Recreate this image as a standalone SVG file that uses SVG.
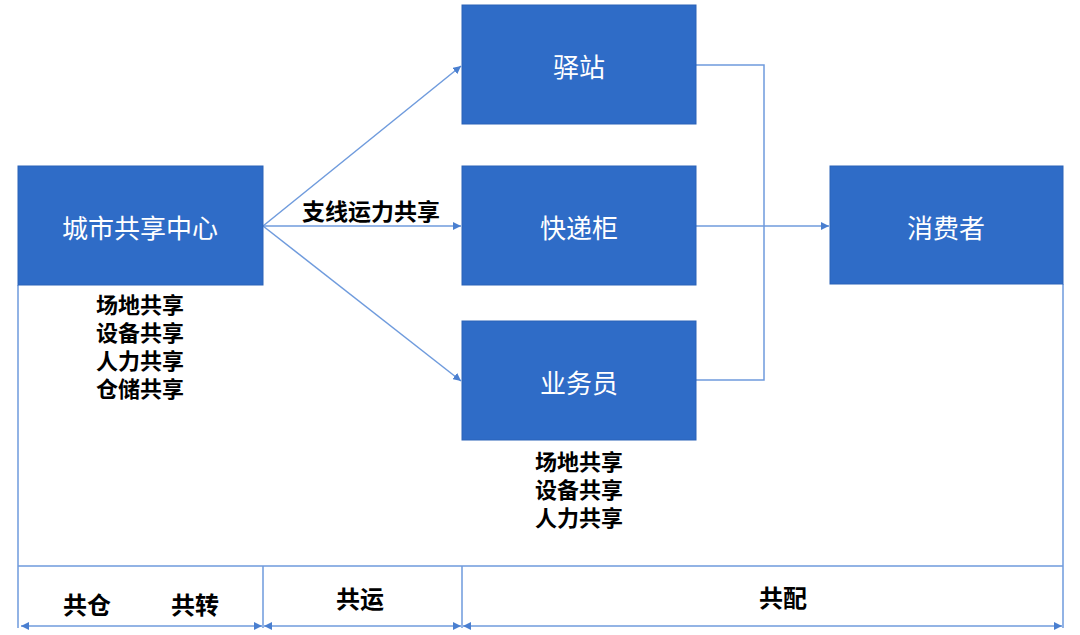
<svg xmlns="http://www.w3.org/2000/svg" width="1080" height="635" viewBox="0 0 1080 635">
<defs>
<style>
.box{fill:#2F6CC7;stroke:#2A62B8;stroke-width:1}
.wt{font-family:"Noto Sans CJK SC","Liberation Sans",sans-serif;font-size:26px;fill:#ffffff;text-anchor:middle;dominant-baseline:central}
.bt{font-family:"Noto Sans CJK SC","Liberation Sans",sans-serif;font-size:22px;font-weight:bold;fill:#000000;text-anchor:middle}
.bl{font-size:24px}
.ln{fill:none;stroke:#6F9BDD;stroke-width:1.5}
</style>
<marker id="ah" viewBox="0 0 10 10" refX="10" refY="5" markerWidth="8" markerHeight="8" markerUnits="userSpaceOnUse" orient="auto">
<path d="M0,0 L10,5 L0,10 z" fill="#4A7FD0"/>
</marker>
<marker id="ahs" viewBox="0 0 10 10" refX="10" refY="5" markerWidth="8" markerHeight="8" markerUnits="userSpaceOnUse" orient="auto-start-reverse">
<path d="M0,0 L10,5 L0,10 z" fill="#4A7FD0"/>
</marker>
</defs>
<rect width="1080" height="635" fill="#ffffff"/>
<g id="frame">
<path class="ln" d="M18,285 V628 M1063,284 V628 M18,566 H1063 M263,566 V628 M462,566 V628"/>
</g>
<g id="connectors">
<line class="ln" x1="263" y1="226" x2="461" y2="66" marker-end="url(#ah)"/>
<line class="ln" x1="263" y1="226" x2="461" y2="226" marker-end="url(#ah)"/>
<line class="ln" x1="263" y1="226" x2="461" y2="381" marker-end="url(#ah)"/>
<path class="ln" d="M696,65 H764 V380 H696"/>
<line class="ln" x1="696" y1="226" x2="829" y2="226" marker-end="url(#ah)"/>
<line class="ln" x1="21" y1="626" x2="262" y2="626" marker-start="url(#ahs)" marker-end="url(#ahs)"/>
<line class="ln" x1="264" y1="626" x2="461" y2="626" marker-start="url(#ahs)" marker-end="url(#ahs)"/>
<line class="ln" x1="463" y1="626" x2="1062" y2="626" marker-start="url(#ahs)" marker-end="url(#ahs)"/>
</g>
<g id="center">
<rect class="box" x="18" y="166" width="245" height="119"/>
<text class="wt" x="140" y="226">城市共享中心</text>
</g>
<g id="center-notes">
<text class="bt" x="140" y="313">场地共享</text>
<text class="bt" x="140" y="341">设备共享</text>
<text class="bt" x="140" y="369">人力共享</text>
<text class="bt" x="140" y="397">仓储共享</text>
</g>
<g id="yizhan">
<rect class="box" x="462" y="5" width="234" height="119"/>
<text class="wt" x="579" y="65">驿站</text>
</g>
<g id="kuaidigui">
<rect class="box" x="462" y="166" width="234" height="119"/>
<text class="wt" x="579" y="226">快递柜</text>
</g>
<g id="yewuyuan">
<rect class="box" x="462" y="321" width="234" height="119"/>
<text class="wt" x="579" y="381">业务员</text>
</g>
<g id="yewuyuan-notes">
<text class="bt" x="579" y="470">场地共享</text>
<text class="bt" x="579" y="498">设备共享</text>
<text class="bt" x="579" y="526">人力共享</text>
</g>
<g id="xiaofeizhe">
<rect class="box" x="830" y="166" width="233" height="118"/>
<text class="wt" x="946" y="226">消费者</text>
</g>
<g id="labels">
<text class="bt" x="371" y="220" style="font-size:23px">支线运力共享</text>
<text class="bt bl" x="87" y="614">共仓</text>
<text class="bt bl" x="195" y="614">共转</text>
<text class="bt bl" x="360" y="608">共运</text>
<text class="bt bl" x="783" y="607">共配</text>
</g>
</svg>
